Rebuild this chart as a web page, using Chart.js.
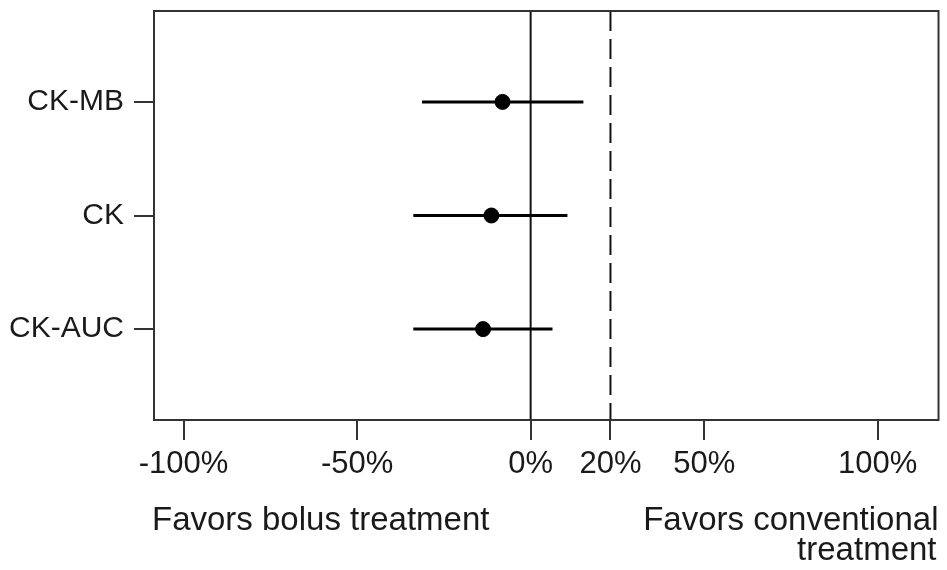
<!DOCTYPE html>
<html>
<head>
<meta charset="utf-8">
<script src="https://cdn.jsdelivr.net/npm/chart.js@4"></script>
<style>
  body { margin: 0; background: #fff; }
  canvas { display: block; }
</style>
</head>
<body>
<canvas id="forest" width="947" height="570"></canvas>
<script>
// forest plot data (percent change)
const categories = ['CK-MB', 'CK', 'CK-AUC'];
const estimates = [-8.1, -11.3, -13.7];
const lowerCI = [-31.3, -33.8, -33.8];
const upperCI = [15.2, 10.6, 6.3];

const tickValues = [-100, -50, 0, 23, 50, 100];
const tickLabels = ['-100%', '-50%', '0%', '20%', '50%', '100%'];
const marginLine = 23; // dashed line sits on the "20%" tick

const fontFamily = "'Liberation Sans', Arial, sans-serif";
const ink = '#1a1a1a';

const yMin = -0.8, yMax = 2.8;

const ciSets = categories.map((c, i) => ({
    type: 'line',
    label: c + ' CI',
    data: [{ x: lowerCI[i], y: i }, { x: upperCI[i], y: i }],
    borderColor: '#000',
    borderWidth: 3,
    pointRadius: 0
}));

const boxPlugin = {
    id: 'boxAndNotes',
    afterDraw(chart) {
        const { ctx, chartArea } = chart;
        ctx.save();
        ctx.strokeStyle = '#333';
        ctx.lineWidth = 2;
        ctx.strokeRect(chartArea.left, chartArea.top, chartArea.right - chartArea.left, chartArea.bottom - chartArea.top);

        ctx.fillStyle = ink;
        ctx.font = '33px ' + fontFamily;
        ctx.textBaseline = 'middle';
        ctx.textAlign = 'left';
        ctx.fillText('Favors bolus treatment', chartArea.left - 2, 521);
        ctx.textAlign = 'right';
        ctx.fillText('Favors conventional', chartArea.right, 521);
        ctx.fillText('treatment', chartArea.right - 2, 551);
        ctx.restore();
    }
};

new Chart(document.getElementById('forest').getContext('2d'), {
    type: 'scatter',
    data: {
        datasets: [
            {
                label: 'Estimate',
                data: estimates.map((v, i) => ({ x: v, y: i })),
                backgroundColor: '#000',
                borderColor: '#000',
                pointRadius: 7.5,
                pointHoverRadius: 7.5,
                order: 0
            },
            ...ciSets,
            {
                type: 'line',
                label: 'zero',
                data: [{ x: 0, y: yMin }, { x: 0, y: yMax }],
                borderColor: '#111',
                borderWidth: 2,
                pointRadius: 0
            },
            {
                type: 'line',
                label: 'margin',
                data: [{ x: marginLine, y: yMin }, { x: marginLine, y: yMax }],
                borderColor: '#111',
                borderWidth: 2,
                borderDash: [20, 8],
                pointRadius: 0
            }
        ]
    },
    options: {
        responsive: false,
        animation: false,
        layout: { padding: { top: 11, right: 3, left: 0, bottom: 0 } },
        plugins: {
            legend: { display: false },
            tooltip: { enabled: false }
        },
        scales: {
            x: {
                type: 'linear',
                min: -108.5,
                max: 117.5,
                afterBuildTicks: axis => { axis.ticks = tickValues.map(v => ({ value: v })); },
                afterFit: axis => { axis.height = 150; axis.paddingLeft = 0; axis.paddingRight = 0; },
                ticks: {
                    autoSkip: false,
                    maxRotation: 0,
                    padding: 6,
                    color: ink,
                    font: { family: fontFamily, size: 31 },
                    callback: (v) => tickLabels[tickValues.indexOf(v)]
                },
                grid: {
                    drawOnChartArea: false,
                    tickLength: 20,
                    color: '#333',
                    lineWidth: 2
                },
                border: { display: false }
            },
            y: {
                type: 'linear',
                reverse: true,
                min: yMin,
                max: yMax,
                afterBuildTicks: axis => { axis.ticks = categories.map((c, i) => ({ value: i })); },
                afterFit: axis => { axis.width = 154; axis.paddingTop = 0; axis.paddingBottom = 0; },
                ticks: {
                    autoSkip: false,
                    padding: 10,
                    color: ink,
                    font: { family: fontFamily, size: 30 },
                    callback: (v) => categories[v]
                },
                grid: {
                    drawOnChartArea: false,
                    tickLength: 20,
                    color: '#333',
                    lineWidth: 2
                },
                border: { display: false }
            }
        }
    },
    plugins: [boxPlugin]
});
</script>
</body>
</html>
